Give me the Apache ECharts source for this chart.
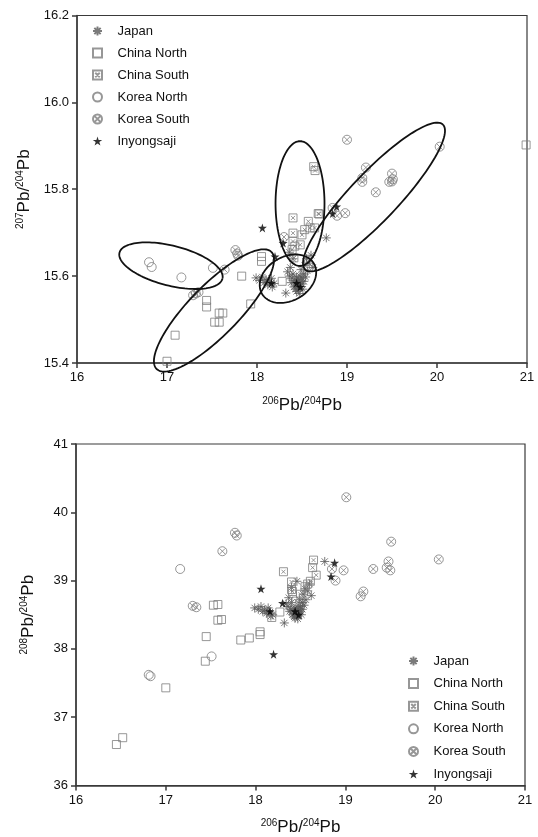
<!DOCTYPE html>
<html>
<head>
<meta charset="utf-8">
<script src="https://cdn.jsdelivr.net/npm/echarts@6/dist/echarts.min.js"></script>
<style>
html,body{margin:0;padding:0;background:#fff;}
#chart{width:538px;height:837px;}
</style>
</head>
<body>
<div id="chart"></div>
<script>
// ---------- DATA ----------
const seriesNames = ['Japan', 'China North', 'China South', 'Korea North', 'Korea South', 'Inyongsaji'];
const xTicks = [16, 17, 18, 19, 20, 21];
const yTicksTop = [15.4, 15.6, 15.8, 16.0, 16.2];
const yTicksBottom = [36, 37, 38, 39, 40, 41];

// Top chart: 206Pb/204Pb vs 207Pb/204Pb
const topJapan = [
  [17.99,15.596],[18.03,15.590],[18.06,15.598],[18.08,15.585],[18.10,15.592],[18.12,15.580],
  [18.14,15.588],[18.16,15.595],[18.17,15.575],[18.19,15.583],[18.32,15.561],[18.34,15.610],
  [18.36,15.600],[18.37,15.620],[18.38,15.585],[18.39,15.595],[18.40,15.605],[18.41,15.575],
  [18.42,15.590],[18.43,15.570],[18.43,15.582],[18.44,15.598],[18.44,15.565],[18.45,15.588],
  [18.45,15.578],[18.46,15.572],[18.46,15.592],[18.47,15.583],[18.47,15.560],[18.48,15.600],
  [18.48,15.576],[18.49,15.588],[18.49,15.615],[18.50,15.582],[18.50,15.596],[18.51,15.570],
  [18.52,15.605],[18.52,15.588],[18.53,15.625],[18.54,15.598],[18.55,15.640],[18.56,15.612],
  [18.58,15.630],[18.60,15.648],[18.62,15.620],[18.77,15.688],[18.40,15.640],[18.36,15.655]
];
const topChinaNorth = [
  [17.44,15.544],[17.44,15.529],[17.53,15.494],[17.58,15.494],[17.58,15.515],[17.62,15.515],
  [17.83,15.600],[17.93,15.536],[17.09,15.464],[17.00,15.404],[18.05,15.645],[18.05,15.634],
  [18.28,15.588],[20.99,15.902]
];
const topChinaSouth = [
  [18.63,15.852],[18.645,15.843],[18.69,15.743],[18.40,15.734],[18.57,15.726],[18.40,15.699],
  [18.50,15.695],[18.53,15.707],[18.59,15.711],[18.64,15.711],[18.40,15.680],[18.42,15.669],
  [18.48,15.672],[18.39,15.661],[18.41,15.642],[18.68,15.744]
];
const topKoreaNorth = [[16.80,15.632],[16.83,15.621],[17.16,15.597],[17.51,15.619]];
const topKoreaSouth = [
  [17.29,15.556],[17.32,15.560],[17.35,15.563],[17.64,15.615],[17.76,15.660],[17.78,15.652],
  [17.79,15.647],[18.30,15.690],[18.84,15.757],[18.89,15.739],[18.98,15.745],[19.00,15.914],
  [19.17,15.826],[19.17,15.817],[19.21,15.850],[19.32,15.793],[19.47,15.817],[19.50,15.836],
  [19.51,15.823],[19.50,15.818],[20.03,15.898]
];
const topInyongsaji = [
  [18.06,15.711],[18.29,15.676],[18.20,15.645],[18.885,15.760],[18.84,15.744],
  [18.44,15.584],[18.16,15.584],[18.48,15.575]
];
// Ellipses on top chart: [centerX, centerY, majorHalfX, majorHalfY, minorHalfX, minorHalfY] (data units)
const topEllipses = [
  [17.044, 15.624, 0.572, -0.0299, -0.054, -0.0446],
  [17.522, 15.521, 0.637, 0.1349, 0.199, -0.0402],
  [18.344, 15.594, 0.289, 0.0345, 0.122, -0.0438],
  [18.478, 15.767, 0.0, 0.1437, 0.272, 0.0],
  [19.300, 15.782, 0.765, 0.1670, 0.193, -0.0380]
];

// Bottom chart: 206Pb/204Pb vs 208Pb/204Pb
const botJapan = [
  [17.99,38.60],[18.03,38.58],[18.06,38.62],[18.08,38.55],[18.10,38.57],[18.12,38.52],
  [18.14,38.60],[18.16,38.54],[18.17,38.48],[18.19,38.50],[18.32,38.38],[18.34,38.66],
  [18.36,38.62],[18.37,38.75],[18.38,38.55],[18.39,38.58],[18.40,38.68],[18.41,38.50],
  [18.42,38.56],[18.43,38.47],[18.43,38.52],[18.44,38.60],[18.44,38.45],[18.45,38.55],
  [18.45,38.51],[18.46,38.49],[18.46,38.58],[18.47,38.54],[18.47,38.44],[18.48,38.63],
  [18.48,38.52],[18.49,38.57],[18.49,38.72],[18.50,38.55],[18.50,38.62],[18.51,38.50],
  [18.52,38.68],[18.52,38.58],[18.53,38.80],[18.54,38.64],[18.55,38.88],[18.56,38.72],
  [18.58,38.85],[18.60,38.95],[18.62,38.78],[18.77,39.28],[18.40,38.90],[18.46,38.99]
];
const botChinaNorth = [
  [16.45,36.60],[16.52,36.70],[17.00,37.43],[17.44,37.82],[17.45,38.18],[17.53,38.64],
  [17.58,38.65],[17.58,38.42],[17.62,38.43],[17.835,38.13],[17.93,38.16],[18.05,38.25],
  [18.05,38.21],[18.27,38.54]
];
const botChinaSouth = [
  [18.645,39.30],[18.635,39.19],[18.675,39.08],[18.61,38.99],[18.40,38.98],[18.31,39.13],
  [18.40,38.87],[18.55,38.91],[18.41,38.84],[18.18,38.46],[18.50,38.80],[18.45,38.70],[18.58,38.95]
];
const botKoreaNorth = [[17.16,39.17],[16.81,37.62],[16.83,37.60],[17.51,37.89]];
const botKoreaSouth = [
  [17.30,38.63],[17.34,38.61],[17.63,39.43],[17.77,39.70],[17.79,39.66],[18.85,39.17],
  [18.89,39.00],[18.98,39.15],[19.01,40.22],[19.17,38.77],[19.20,38.84],[19.31,39.17],
  [19.48,39.28],[19.46,39.19],[19.50,39.15],[19.51,39.57],[20.04,39.31]
];
const botInyongsaji = [
  [18.06,38.88],[18.20,37.92],[18.88,39.26],[18.84,39.06],[18.30,38.67],
  [18.44,38.55],[18.16,38.55],[18.48,38.50]
];

// ---------- STYLE ----------
const FONT = 'Liberation Sans, Arial, sans-serif';
const AXC = '#3a3a3a';
const GRAY = '#7d7d7d';
const SYM = {
  'Japan': {symbol:'path://M5,0L5,10M0,5L10,5M1.5,1.5L8.5,8.5M8.5,1.5L1.5,8.5', size:9,
            itemStyle:{color:'rgba(0,0,0,0)', borderColor:'#5a5a5a', borderWidth:1}},
  'China North': {symbol:'path://M0,0L10,0L10,10L0,10Z', size:8,
            itemStyle:{color:'rgba(0,0,0,0)', borderColor:GRAY, borderWidth:1}},
  'China South': {symbol:'path://M0,0L10,0L10,10L0,10ZM2.5,2.5L7.5,7.5M7.5,2.5L2.5,7.5', size:8,
            itemStyle:{color:'rgba(0,0,0,0)', borderColor:GRAY, borderWidth:1}},
  'Korea North': {symbol:'path://M10,5A5,5,0,1,1,0,5A5,5,0,1,1,10,5Z', size:9,
            itemStyle:{color:'rgba(0,0,0,0)', borderColor:GRAY, borderWidth:1}},
  'Korea South': {symbol:'path://M10,5A5,5,0,1,1,0,5A5,5,0,1,1,10,5ZM1.8,1.8L8.2,8.2M8.2,1.8L1.8,8.2', size:9,
            itemStyle:{color:'rgba(0,0,0,0)', borderColor:GRAY, borderWidth:1}},
  'Inyongsaji': {symbol:'path://M5,0L6.18,3.6L10,3.6L6.9,5.9L8.1,9.5L5,7.3L1.9,9.5L3.1,5.9L0,3.6L3.82,3.6Z', size:9,
            itemStyle:{color:'#000', borderColor:'#000', borderWidth:0}}
};

function scatter(name, data, gi) {
  const s = SYM[name];
  return {
    type:'scatter', name, data, xAxisIndex:gi, yAxisIndex:gi,
    symbol:s.symbol, symbolSize:s.size, itemStyle:s.itemStyle,
    emphasis:{disabled:true}, animation:false, clip:false
  };
}

const richName = {
  s:{fontSize:10, fontFamily:FONT, color:'#111', verticalAlign:'top', lineHeight:18},
  b:{fontSize:17, fontFamily:FONT, color:'#111', lineHeight:18}
};

function xAxisDef(gi) {
  return {
    gridIndex:gi, type:'value', min:16, max:21, interval:1,
    name:'{s|206}{b|Pb/}{s|204}{b|Pb}', nameLocation:'middle', nameGap:33,
    nameTextStyle:{rich:richName},
    axisLine:{show:true, onZero:false, lineStyle:{color:AXC, width:1.5}},
    axisTick:{show:true, length:5, lineStyle:{color:AXC, width:1.5}},
    axisLabel:{fontSize:13, fontFamily:FONT, color:'#111', margin:8},
    splitLine:{show:false}
  };
}
function yAxisDef(gi, min, max, interval, ticks, supTop, digits, gap) {
  return {
    gridIndex:gi, type:'value', min, max, interval,
    name:'{s|' + supTop + '}{b|Pb/}{s|204}{b|Pb}', nameLocation:'middle', nameGap:gap,
    nameRotate:90,
    nameTextStyle:{rich:richName},
    axisLine:{show:true, onZero:false, lineStyle:{color:AXC, width:1.5}},
    axisTick:{show:true, length:5, lineStyle:{color:AXC, width:1.5}},
    axisLabel:{fontSize:13, fontFamily:FONT, color:'#111', margin:8,
               formatter: v => digits ? v.toFixed(digits) : String(v)},
    splitLine:{show:false}
  };
}

function renderEllipse(params, api) {
  const e = topEllipses[params.dataIndex];
  const pts = [];
  const N = 120;
  for (let k = 0; k <= N; k++) {
    const t = k / N * Math.PI * 2;
    const c = Math.cos(t), s = Math.sin(t);
    pts.push(api.coord([e[0] + e[2]*c + e[4]*s, e[1] + e[3]*c + e[5]*s]));
  }
  return {type:'polyline', shape:{points:pts}, style:{fill:null, stroke:'#111', lineWidth:1.8}, z2:10};
}

const chart = echarts.init(document.getElementById('chart'), null, {renderer:'canvas'});
const legendBase = {
  data: seriesNames, orient:'vertical', itemWidth:30, itemHeight:9, itemGap:8,
  selectedMode:false, textStyle:{fontSize:13, fontFamily:FONT, color:'#111', lineHeight:14}
};
chart.setOption({
  animation:false,
  backgroundColor:'#fff',
  grid:[
    {left:77, top:15.5, width:450, height:347.5, show:true, borderColor:AXC, borderWidth:1.2, backgroundColor:'transparent'},
    {left:76, top:444, width:449, height:346, show:true, borderColor:AXC, borderWidth:1.2, backgroundColor:'transparent'}
  ],
  xAxis:[xAxisDef(0), xAxisDef(1)],
  yAxis:[
    yAxisDef(0, 15.4, 16.2, 0.2, yTicksTop, '207', 1, 41),
    yAxisDef(1, 36, 41, 1, yTicksBottom, '208', 0, 39)
  ],
  legend:[
    Object.assign({}, legendBase, {left:87, top:19}),
    Object.assign({}, legendBase, {left:403, top:649, itemGap:8.6})
  ],
  series:[
    scatter('Japan', topJapan, 0),
    scatter('China North', topChinaNorth, 0),
    scatter('China South', topChinaSouth, 0),
    scatter('Korea North', topKoreaNorth, 0),
    scatter('Korea South', topKoreaSouth, 0),
    scatter('Inyongsaji', topInyongsaji, 0),
    {type:'custom', name:'ellipses', xAxisIndex:0, yAxisIndex:0, renderItem:renderEllipse,
     data: topEllipses.map(e => [e[0], e[1]]), clip:false, z:5, silent:true},
    scatter('Japan', botJapan, 1),
    scatter('China North', botChinaNorth, 1),
    scatter('China South', botChinaSouth, 1),
    scatter('Korea North', botKoreaNorth, 1),
    scatter('Korea South', botKoreaSouth, 1),
    scatter('Inyongsaji', botInyongsaji, 1)
  ]
});
</script>
</body>
</html>
